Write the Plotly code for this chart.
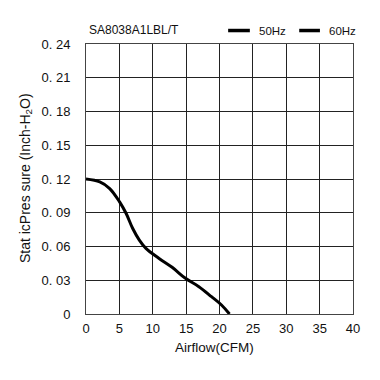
import plotly.graph_objects as go

# Data
airflow_cfm = [0, 2.07, 3.55, 5.03, 6.02, 7.0, 7.99, 8.98, 10.95, 12.9, 14.9, 16.86, 18.8, 20.3, 21.5]
pressure_inh2o = [0.12, 0.1174, 0.1115, 0.0997, 0.0893, 0.076, 0.0657, 0.0583, 0.0494, 0.0415, 0.0317, 0.0245, 0.0154, 0.008, 0.0]

x_ticks = [0, 5, 10, 15, 20, 25, 30, 35, 40]
y_ticks = [0, 0.03, 0.06, 0.09, 0.12, 0.15, 0.18, 0.21, 0.24]
y_tick_text = ["0", "0. 03", "0. 06", "0. 09", "0. 12", "0. 15", "0. 18", "0. 21", "0. 24"]

series_names = ["50Hz", "60Hz"]
model_name = "SA8038A1LBL/T"

FONT = "Liberation Sans, Arial, sans-serif"
INK = "#111111"

fig = go.Figure()
fig.add_trace(go.Scatter(
    x=airflow_cfm, y=pressure_inh2o, mode="lines", name=series_names[0],
    line=dict(color="black", width=3, shape="spline", smoothing=1.0),
    showlegend=False,
))

# page body adds ~8px offset; figure is sized so plot area lands where the reference has it
fig.update_layout(
    width=364, height=364,
    margin=dict(l=78, r=15.5, t=35.5, b=58),
    paper_bgcolor="white", plot_bgcolor="white",
    font=dict(family=FONT, size=13, color=INK),
    showlegend=False,
)

axis_common = dict(
    showgrid=True, gridcolor="#222222", gridwidth=1,
    showline=True, linecolor="#444444", linewidth=1, mirror=True,
    zeroline=False, ticks="", tickfont=dict(family=FONT, size=13, color=INK),
)
fig.update_xaxes(range=[0, 40], tickvals=x_ticks, ticktext=[str(v) for v in x_ticks],
                 ticklabelstandoff=2, **axis_common)
fig.update_yaxes(range=[0, 0.24], tickvals=y_ticks, ticktext=y_tick_text,
                 ticklabelstandoff=12, **axis_common)

def px_x(p):
    return (p - 86) / 270.5

def px_y(p):
    return (314 - p) / 270.5

annotations = [
    dict(text=model_name, x=px_x(87), y=px_y(29), xref="paper", yref="paper",
         xanchor="left", yanchor="middle", showarrow=False, font=dict(size=12, family=FONT, color=INK)),
    dict(text=series_names[0], x=px_x(259), y=px_y(30), xref="paper", yref="paper",
         xanchor="left", yanchor="middle", showarrow=False, font=dict(size=11.5, family=FONT, color=INK)),
    dict(text=series_names[1], x=px_x(330), y=px_y(30), xref="paper", yref="paper",
         xanchor="left", yanchor="middle", showarrow=False, font=dict(size=11.5, family=FONT, color=INK)),
    dict(text="Airflow(CFM)", x=px_x(216), y=px_y(348), xref="paper", yref="paper",
         xanchor="center", yanchor="middle", showarrow=False, font=dict(size=13.5, family=FONT, color=INK)),
    dict(text="Stat icPres sure (Inch-H<sub>2</sub>O)", x=px_x(25), y=px_y(178), xref="paper", yref="paper",
         xanchor="center", yanchor="middle", textangle=-90, showarrow=False,
         font=dict(size=14, family=FONT, color=INK)),
]
fig.update_layout(annotations=annotations)

shapes = [
    dict(type="line", xref="paper", yref="paper", x0=px_x(230), x1=px_x(252), y0=px_y(30), y1=px_y(30),
         line=dict(color="black", width=3.5)),
    dict(type="line", xref="paper", yref="paper", x0=px_x(302), x1=px_x(323), y0=px_y(30), y1=px_y(30),
         line=dict(color="black", width=3.5)),
]
fig.update_layout(shapes=shapes)

fig.write_html("out.html")
